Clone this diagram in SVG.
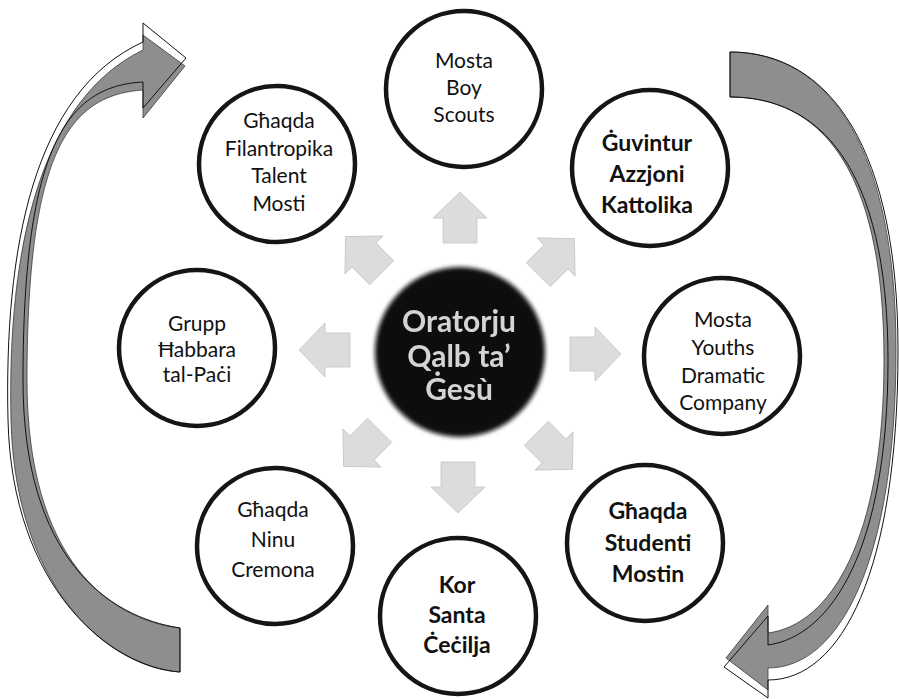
<svg xmlns="http://www.w3.org/2000/svg" width="899" height="699" viewBox="0 0 899 699">
<style>
.node circle{fill:#fff;stroke:#151515;stroke-width:4.5}
.lbl{font-family:Lato,"Open Sans","Liberation Sans",sans-serif;font-size:21px;fill:#111;text-anchor:middle}
.b{font-weight:bold;font-size:23px}
.sa{fill:#dcdcdc;stroke:#c4c4c4;stroke-width:0.8}
.big{fill:#8e8e8e;stroke:#3a3a3a;stroke-width:0.8}
.bigo{fill:none;stroke:#111;stroke-width:1}
</style>
<defs>
<path id="sa" d="M0,-26 L27,0 L17,0 L17,25 L-17,25 L-17,0 L-27,0 Z"/>
<filter id="soft" x="-20%" y="-20%" width="140%" height="140%"><feGaussianBlur stdDeviation="2"/></filter>
<filter id="softt" x="-10%" y="-10%" width="120%" height="120%"><feGaussianBlur stdDeviation="0.7"/></filter>
</defs>
<rect width="899" height="699" fill="#fff"/>
<g id="cycle-arrows">
<path class="big" d="M180,628 L180,672 C110,668 15,590 11,420 C7,250 40,100 143,50 L143,35 L185,66 L143,118 L143,90 C70,95 27,150 27,380 C27,560 110,620 180,628 Z"/>
<path class="bigo" d="M180,628 L180,672 C110,667 12,588 8,420 C4,250 33,92 143,42 L143,23 L186,58 L143,108 L143,82 C68,86 23,145 23,380 C23,558 108,617 180,628 Z"/>
<path class="big" d="M730,52 C830,52 896,150 896,350 C896,560 840,668 768,668 L768,690 L726,658 L768,605 L768,633 C830,625 884,540 884,360 C884,160 815,97 730,97 Z"/>
<path class="bigo" d="M730,52 C832,52 898,152 898,350 C898,570 842,680 768,680 L768,698 L724,667 L768,616 L768,645 C832,636 888,548 888,360 C888,165 818,97 730,97 Z"/>
</g>
<g id="connectors">
<use href="#sa" class="sa" transform="translate(460,218)"/>
<use href="#sa" class="sa" transform="translate(556,257) rotate(45)"/>
<use href="#sa" class="sa" transform="translate(595,354) rotate(90)"/>
<use href="#sa" class="sa" transform="translate(554,451) rotate(135)"/>
<use href="#sa" class="sa" transform="translate(458,487) rotate(180)"/>
<use href="#sa" class="sa" transform="translate(362,448) rotate(225)"/>
<use href="#sa" class="sa" transform="translate(325,350) rotate(270)"/>
<use href="#sa" class="sa" transform="translate(364,255) rotate(315)"/>
</g>
<g id="center">
<circle cx="460" cy="352" r="85" fill="#0d0d0d" filter="url(#soft)"/>
<g filter="url(#softt)" font-family="Lato,'Open Sans','Liberation Sans',sans-serif" font-weight="bold" font-size="30" fill="#d4d4d4" text-anchor="middle">
<text x="459" y="332">Oratorju</text>
<text x="459" y="367">Qalb ta’</text>
<text x="459" y="400">Ġesù</text>
</g>
</g>
<g id="n-boy-scouts" class="node">
<circle cx="464" cy="89" r="78"/>
<text class="lbl" x="464" y="68">Mosta</text>
<text class="lbl" x="464" y="95">Boy</text>
<text class="lbl" x="464" y="122">Scouts</text>
</g>
<g id="n-filantropika" class="node">
<circle cx="277" cy="164" r="78"/>
<text class="lbl" x="279" y="128">Għaqda</text>
<text class="lbl" x="279" y="156">Filantropika</text>
<text class="lbl" x="279" y="183">Talent</text>
<text class="lbl" x="279" y="211">Mosti</text>
</g>
<g id="n-guvintur" class="node">
<circle cx="650" cy="168" r="78"/>
<text class="lbl b" x="647" y="151">Ġuvintur</text>
<text class="lbl b" x="647" y="182">Azzjoni</text>
<text class="lbl b" x="647" y="213">Kattolika</text>
</g>
<g id="n-grupp" class="node">
<circle cx="197" cy="348" r="78"/>
<text class="lbl" x="197" y="331">Grupp</text>
<text class="lbl" x="197" y="357">Ħabbara</text>
<text class="lbl" x="197" y="382">tal-Paċi</text>
</g>
<g id="n-youths" class="node">
<circle cx="722" cy="356" r="78"/>
<text class="lbl" x="723" y="327">Mosta</text>
<text class="lbl" x="723" y="355">Youths</text>
<text class="lbl" x="723" y="383">Dramatic</text>
<text class="lbl" x="723" y="410">Company</text>
</g>
<g id="n-ninu" class="node">
<circle cx="275" cy="546" r="78"/>
<text class="lbl" x="273" y="517">Għaqda</text>
<text class="lbl" x="273" y="547">Ninu</text>
<text class="lbl" x="273" y="577">Cremona</text>
</g>
<g id="n-kor" class="node">
<circle cx="458" cy="616" r="78"/>
<text class="lbl b" x="457" y="593">Kor</text>
<text class="lbl b" x="457" y="623">Santa</text>
<text class="lbl b" x="457" y="653">Ċeċilja</text>
</g>
<g id="n-studenti" class="node">
<circle cx="645" cy="543" r="78"/>
<text class="lbl b" x="648" y="519">Għaqda</text>
<text class="lbl b" x="648" y="551">Studenti</text>
<text class="lbl b" x="648" y="582">Mostin</text>
</g>
</svg>
